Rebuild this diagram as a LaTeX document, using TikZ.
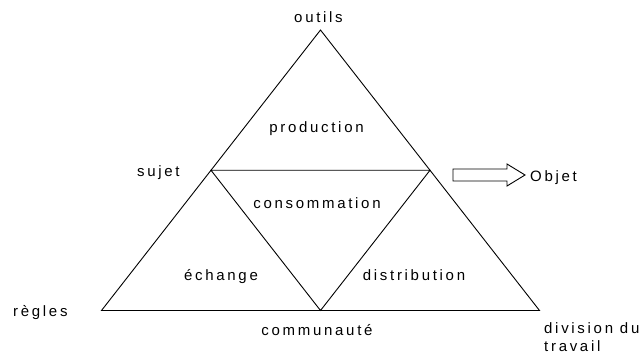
\documentclass[tikz,border=0pt]{standalone}
\usepackage{fontspec}
\setmainfont{Liberation Sans}[LetterSpace=18]
\usetikzlibrary{calc}
\begin{document}
\begin{tikzpicture}[x=1pt,y=-1pt,
  lbl/.style={font=\fontsize{15}{18}\selectfont, inner sep=0pt, anchor=base},
  lblw/.style={lbl, anchor=base west},
  edge/.style={line width=0.9pt, line join=miter}]
\useasboundingbox (0,0) rectangle (642,356);
% outer triangle
\coordinate (A) at (320.5,30);
\coordinate (B) at (101.5,310.5);
\coordinate (C) at (539.5,310.5);
% inner triangle
\coordinate (L) at ($(A)!0.5!(B)$);
\coordinate (R) at ($(A)!0.5!(C)$);
\coordinate (M) at ($(B)!0.5!(C)$);
\draw[edge] (A) -- (B) -- (C) -- cycle;
\draw[edge] (L) -- (R) -- (M) -- cycle;
% labels
\node[lbl] (outils) at (318.5,23) {outils};
\node[lbl] (production) at (316.5,132) {production};
\node[lbl] (consommation) at (317,208) {consommation};
\node[lbl] (communaute) at (317,335) {communauté};
\node[lbl] (echange) at (221,280) {échange};
\node[lbl] (distribution) at (414,280) {distribution};
\node[lblw] (regles) at (13,316) {règles};
\node[lblw] (sujet) at (137,176) {sujet};
\node[lblw] (division) at (544,333) {division du};
\node[lblw] (travail) at (544,351) {travail};
\node[lblw] (objet) at (530,181) {Objet};
% hollow block arrow
\draw[edge] (453,169) -- (507,169) -- (507,164) -- (525,175) -- (507,186) -- (507,181) -- (453,181) -- cycle;
\end{tikzpicture}
\end{document}
